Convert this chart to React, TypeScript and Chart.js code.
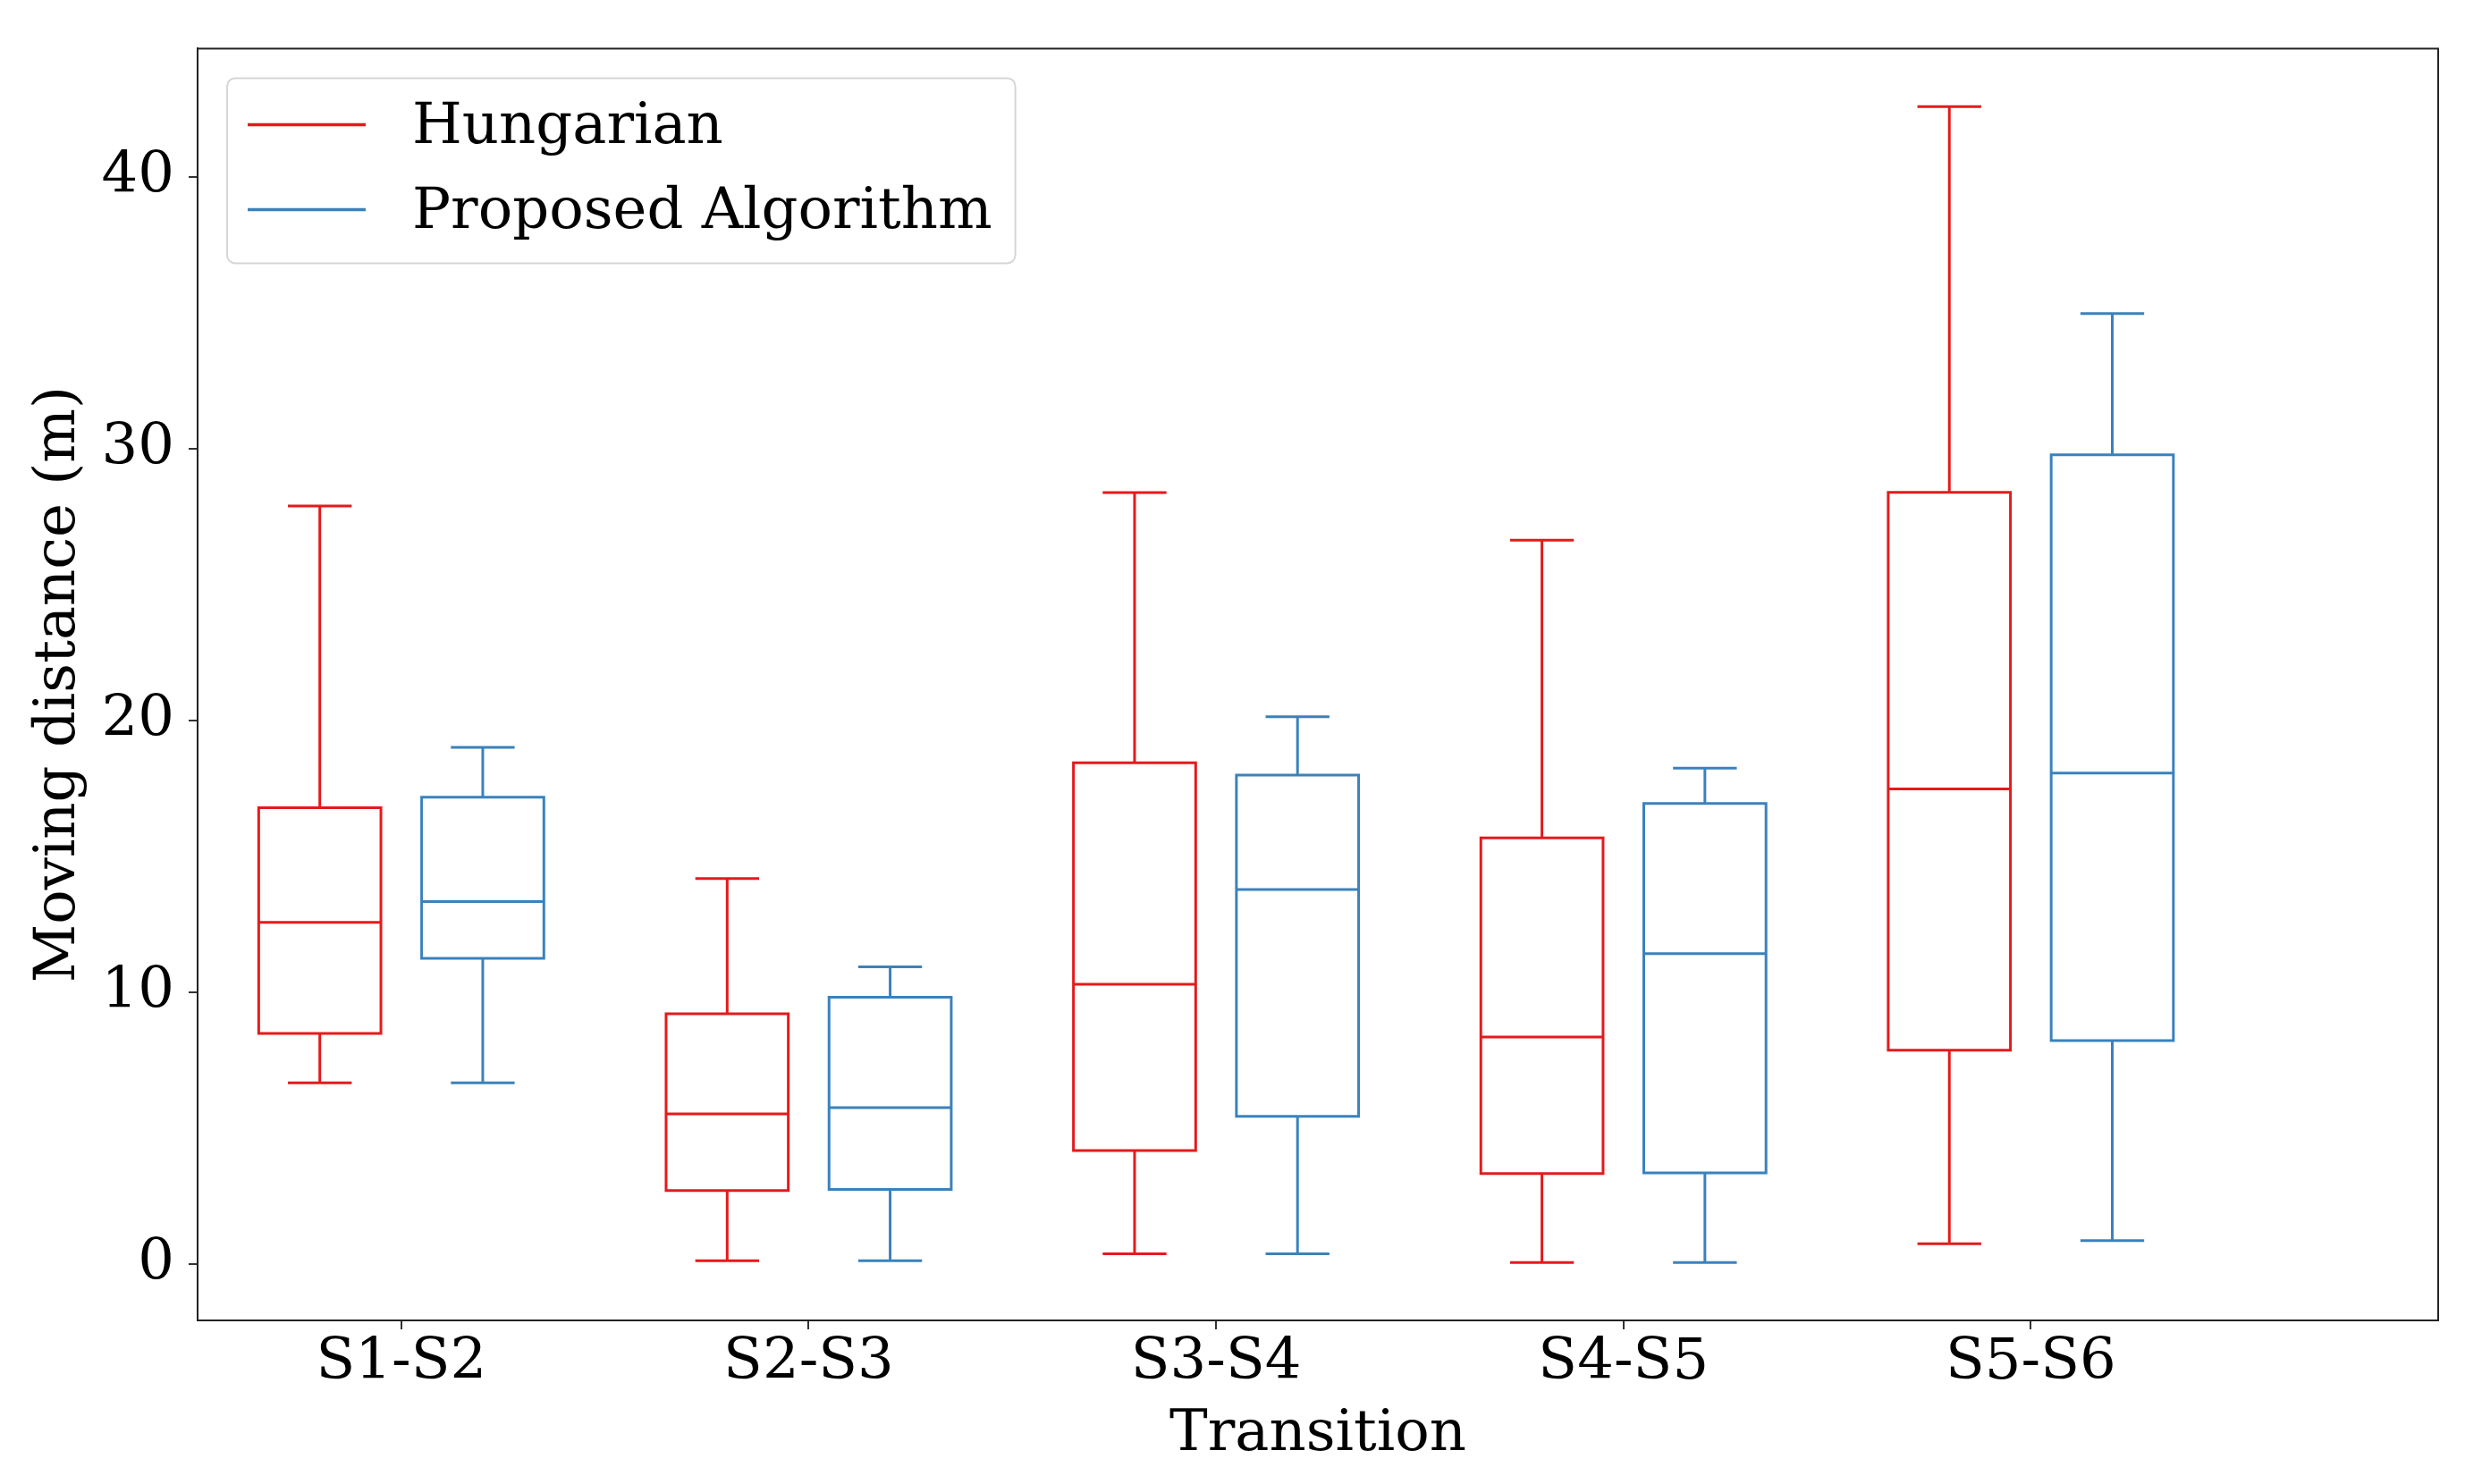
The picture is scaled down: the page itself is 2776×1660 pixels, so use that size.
import React, { useEffect, useRef } from 'react';
import { Chart, registerables } from 'chart.js';

Chart.register(...registerables);

// ---- data ----
const categories = ['S1-S2', 'S2-S3', 'S3-S4', 'S4-S5', 'S5-S6'];
const seriesNames = ['Hungarian', 'Proposed Algorithm'];

const hungarianMin = [6.67, 0.13, 0.38, 0.06, 0.75];
const hungarianQ1 = [8.49, 2.71, 4.18, 3.33, 7.87];
const hungarianMedian = [12.58, 5.53, 10.3, 8.36, 17.49];
const hungarianQ3 = [16.8, 9.21, 18.45, 15.69, 28.4];
const hungarianMax = [27.9, 14.19, 28.39, 26.64, 42.6];

const proposedMin = [6.67, 0.13, 0.38, 0.06, 0.87];
const proposedQ1 = [11.25, 2.75, 5.44, 3.36, 8.23];
const proposedMedian = [13.34, 5.76, 13.79, 11.43, 18.07];
const proposedQ3 = [17.18, 9.82, 18.0, 16.95, 29.78];
const proposedMax = [19.02, 10.94, 20.14, 18.25, 34.98];

const yTicks = [0, 10, 20, 30, 40];

// ---- style ----
const RED = '#e41a1c';
const BLUE = '#3a82bd';
const FONT = 'DejaVu Serif';
const FS = 64;
const BOX_OFFSET = 0.2;
const BOX_HALF = 0.15;
const CAP_HALF = 0.075;

type Pt = { x: number; y: number | null };

function boxPath(
  offset: number,
  mins: number[],
  q1s: number[],
  meds: number[],
  q3s: number[],
  maxs: number[]
): Pt[] {
  const pts: Pt[] = [];
  categories.forEach((_, i) => {
    const c = i + 1 + offset;
    const l = c - BOX_HALF;
    const r = c + BOX_HALF;
    // box
    pts.push({ x: l, y: q1s[i] }, { x: r, y: q1s[i] }, { x: r, y: q3s[i] }, { x: l, y: q3s[i] }, { x: l, y: q1s[i] });
    pts.push({ x: l, y: null });
    // median
    pts.push({ x: l, y: meds[i] }, { x: r, y: meds[i] });
    pts.push({ x: r, y: null });
    // lower whisker + cap
    pts.push({ x: c, y: q1s[i] }, { x: c, y: mins[i] });
    pts.push({ x: c, y: null });
    pts.push({ x: c - CAP_HALF, y: mins[i] }, { x: c + CAP_HALF, y: mins[i] });
    pts.push({ x: c, y: null });
    // upper whisker + cap
    pts.push({ x: c, y: q3s[i] }, { x: c, y: maxs[i] });
    pts.push({ x: c, y: null });
    pts.push({ x: c - CAP_HALF, y: maxs[i] }, { x: c + CAP_HALF, y: maxs[i] });
    pts.push({ x: c, y: null });
  });
  return pts;
}

const framePlugin = {
  id: 'frameAndLegend',
  afterDraw(chart: any) {
    const { ctx, chartArea: a } = chart;
    ctx.save();
    // full frame (all four spines)
    ctx.strokeStyle = '#222';
    ctx.lineWidth = 2;
    ctx.strokeRect(a.left, a.top, a.right - a.left, a.bottom - a.top);

    // legend inside the plot, upper left
    ctx.font = `${FS}px "${FONT}"`;
    const ds = chart.data.datasets;
    const textW = Math.max(...ds.map((d: any) => ctx.measureText(d.label).width));
    const fx = a.left + 33;
    const fy = a.top + 33;
    const lineX0 = a.left + 56;
    const lineX1 = a.left + 188;
    const textX = a.left + 240;
    const rowY0 = a.top + 85;
    const rowStep = 95;
    const fw = textX + textW + 26 - fx;
    const fh = 207;
    const rad = 9;
    ctx.beginPath();
    ctx.moveTo(fx + rad, fy);
    ctx.lineTo(fx + fw - rad, fy);
    ctx.arcTo(fx + fw, fy, fx + fw, fy + rad, rad);
    ctx.lineTo(fx + fw, fy + fh - rad);
    ctx.arcTo(fx + fw, fy + fh, fx + fw - rad, fy + fh, rad);
    ctx.lineTo(fx + rad, fy + fh);
    ctx.arcTo(fx, fy + fh, fx, fy + fh - rad, rad);
    ctx.lineTo(fx, fy + rad);
    ctx.arcTo(fx, fy, fx + rad, fy, rad);
    ctx.closePath();
    ctx.fillStyle = 'rgba(255,255,255,0.8)';
    ctx.fill();
    ctx.strokeStyle = '#d6d6d6';
    ctx.lineWidth = 2;
    ctx.stroke();

    ds.forEach((d: any, i: number) => {
      const y = rowY0 + i * rowStep;
      ctx.strokeStyle = d.borderColor;
      ctx.lineWidth = 3.5;
      ctx.beginPath();
      ctx.moveTo(lineX0, y);
      ctx.lineTo(lineX1, y);
      ctx.stroke();
      ctx.fillStyle = '#000';
      ctx.textAlign = 'left';
      ctx.textBaseline = 'middle';
      ctx.fillText(d.label, textX, y + 4);
    });
    ctx.restore();
  },
};

export default function App() {
  const ref = useRef<HTMLCanvasElement | null>(null);

  useEffect(() => {
    document.body.style.margin = '0';
    const canvas = ref.current;
    if (!canvas) return;

    const common = {
      type: 'line' as const,
      borderWidth: 3,
      pointRadius: 0,
      pointHoverRadius: 0,
      spanGaps: false,
      tension: 0,
      fill: false,
      borderJoinStyle: 'miter' as const,
      borderCapStyle: 'square' as const,
    };

    const chart = new Chart(canvas, {
      type: 'line',
      data: {
        datasets: [
          {
            ...common,
            label: seriesNames[0],
            borderColor: RED,
            backgroundColor: RED,
            data: boxPath(-BOX_OFFSET, hungarianMin, hungarianQ1, hungarianMedian, hungarianQ3, hungarianMax) as any,
          },
          {
            ...common,
            label: seriesNames[1],
            borderColor: BLUE,
            backgroundColor: BLUE,
            data: boxPath(BOX_OFFSET, proposedMin, proposedQ1, proposedMedian, proposedQ3, proposedMax) as any,
          },
        ],
      },
      options: {
        animation: false,
        responsive: false,
        events: [],
        layout: { padding: { left: 0, top: 54, right: 49, bottom: 0 } },
        plugins: {
          legend: { display: false },
          tooltip: { enabled: false },
        },
        scales: {
          x: {
            type: 'linear',
            min: 0.5,
            max: 6,
            afterBuildTicks: (s: any) => {
              s.ticks = categories.map((_, i) => ({ value: i + 1 }));
            },
            afterFit: (s: any) => {
              s.height = 183;
            },
            ticks: {
              autoSkip: false,
              maxRotation: 0,
              padding: 0,
              color: '#000',
              font: { family: FONT, size: FS },
              callback: (v: any) => categories[Math.round(Number(v)) - 1] ?? '',
            },
            grid: { drawOnChartArea: false, drawTicks: true, tickLength: 10, color: '#333', lineWidth: 2 },
            border: { display: true, color: '#222', width: 2 },
            title: {
              display: true,
              text: 'Transition',
              color: '#000',
              font: { family: FONT, size: FS },
              padding: { top: 0, bottom: 16 },
            },
          },
          y: {
            type: 'linear',
            min: -2.07,
            max: 44.73,
            afterBuildTicks: (s: any) => {
              s.ticks = yTicks.map((v) => ({ value: v }));
            },
            afterFit: (s: any) => {
              s.width = 221;
            },
            ticks: {
              padding: 16,
              color: '#000',
              font: { family: FONT, size: FS },
            },
            grid: { drawOnChartArea: false, drawTicks: true, tickLength: 10, color: '#333', lineWidth: 2 },
            border: { display: true, color: '#222', width: 2 },
            title: {
              display: true,
              text: 'Moving distance (m)',
              color: '#000',
              font: { family: FONT, size: FS },
              padding: { top: 28, bottom: 0 },
            },
          },
        },
      },
      plugins: [framePlugin],
    });

    return () => chart.destroy();
  }, []);

  return (
    <div style={{ width: 2776, height: 1660, background: '#fff' }}>
      <canvas ref={ref} width={2776} height={1660} style={{ display: 'block' }} />
    </div>
  );
}
